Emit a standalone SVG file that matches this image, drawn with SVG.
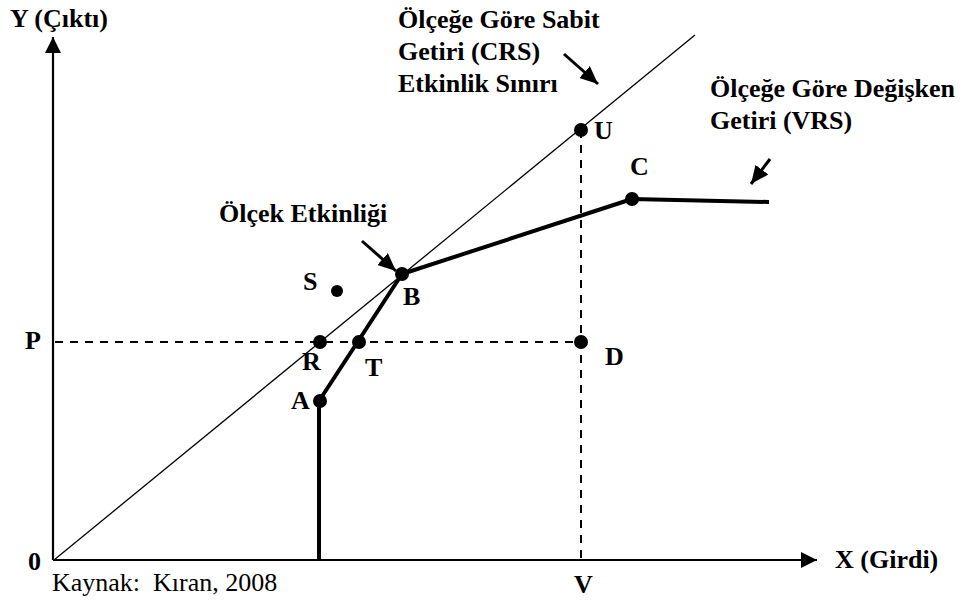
<svg xmlns="http://www.w3.org/2000/svg" width="971" height="604" viewBox="0 0 971 604">
<style>
text{font-family:"Liberation Serif","Times New Roman",serif;font-size:26px;fill:#000}
.b{font-weight:bold}
.ax{stroke:#000;stroke-width:2.2;fill:none}
.crs{stroke:#000;stroke-width:1.3;fill:none}
.vrs{stroke:#000;stroke-width:4;fill:none;stroke-linejoin:round}
.dash{stroke:#000;stroke-width:2;fill:none;stroke-dasharray:8 7}
.pt{fill:#000}
.ptr{stroke:#000;stroke-width:3;fill:none}
</style>
<defs>
<marker id="axh" viewBox="0 0 16 16" refX="16" refY="8" markerWidth="16" markerHeight="16" orient="auto" markerUnits="userSpaceOnUse"><path d="M0,0 L16,8 L0,16 z" fill="#000"/></marker>
<marker id="ph" viewBox="0 0 18 16" refX="18" refY="8" markerWidth="18" markerHeight="16" orient="auto" markerUnits="userSpaceOnUse"><path d="M0,0 L18,8 L0,16 z" fill="#000"/></marker>
</defs>
<g id="connectors">
<line class="ax" x1="53" y1="560" x2="53" y2="37" marker-end="url(#axh)"/>
<line class="ax" x1="53" y1="560" x2="817" y2="560" marker-end="url(#axh)"/>
<line class="crs" x1="54" y1="560" x2="695" y2="35"/>
<line class="dash" x1="55" y1="342" x2="581" y2="342"/>
<line class="dash" x1="581" y1="130" x2="581" y2="559"/>
<polyline class="vrs" points="319,560 319,401 402,274 632,199 769,202"/>
<line class="ptr" x1="564" y1="54" x2="598" y2="84" marker-end="url(#ph)"/>
<line class="ptr" x1="770" y1="159" x2="751" y2="184" marker-end="url(#ph)"/>
<line class="ptr" x1="362" y1="241" x2="396" y2="271" marker-end="url(#ph)"/>
</g>
<g id="axis-labels">
<text class="b" x="10" y="27">Y (Çıktı)</text>
<text class="b" x="835" y="568">X (Girdi)</text>
<text class="b" x="28" y="570">0</text>
<text class="b" x="25" y="349">P</text>
<text class="b" x="574" y="593">V</text>
<text x="52" y="591" xml:space="preserve">Kaynak:  Kıran, 2008</text>
</g>
<g id="crs-label">
<text class="b" x="398" y="28">Ölçeğe Göre Sabit</text>
<text class="b" x="398" y="60">Getiri (CRS)</text>
<text class="b" x="398" y="92">Etkinlik Sınırı</text>
</g>
<g id="vrs-label">
<text class="b" x="710" y="97">Ölçeğe Göre Değişken</text>
<text class="b" x="710" y="129">Getiri (VRS)</text>
</g>
<g id="scale-label"><text class="b" x="219" y="222">Ölçek Etkinliği</text></g>
<g id="U"><circle class="pt" cx="581" cy="130" r="7"/><text class="b" x="594" y="139">U</text></g>
<g id="C"><circle class="pt" cx="632" cy="199" r="7"/><text class="b" x="630" y="175">C</text></g>
<g id="B"><circle class="pt" cx="402" cy="274" r="7"/><text class="b" x="403" y="305">B</text></g>
<g id="S"><circle class="pt" cx="337" cy="291" r="6"/><text class="b" x="303" y="290">S</text></g>
<g id="R"><circle class="pt" cx="320" cy="342" r="7"/><text class="b" x="302" y="370">R</text></g>
<g id="T"><circle class="pt" cx="359" cy="342" r="7"/><text class="b" x="365" y="376">T</text></g>
<g id="D"><circle class="pt" cx="581" cy="342" r="7"/><text class="b" x="605" y="365">D</text></g>
<g id="A"><circle class="pt" cx="320" cy="401" r="7"/><text class="b" x="291" y="409">A</text></g>
</svg>
